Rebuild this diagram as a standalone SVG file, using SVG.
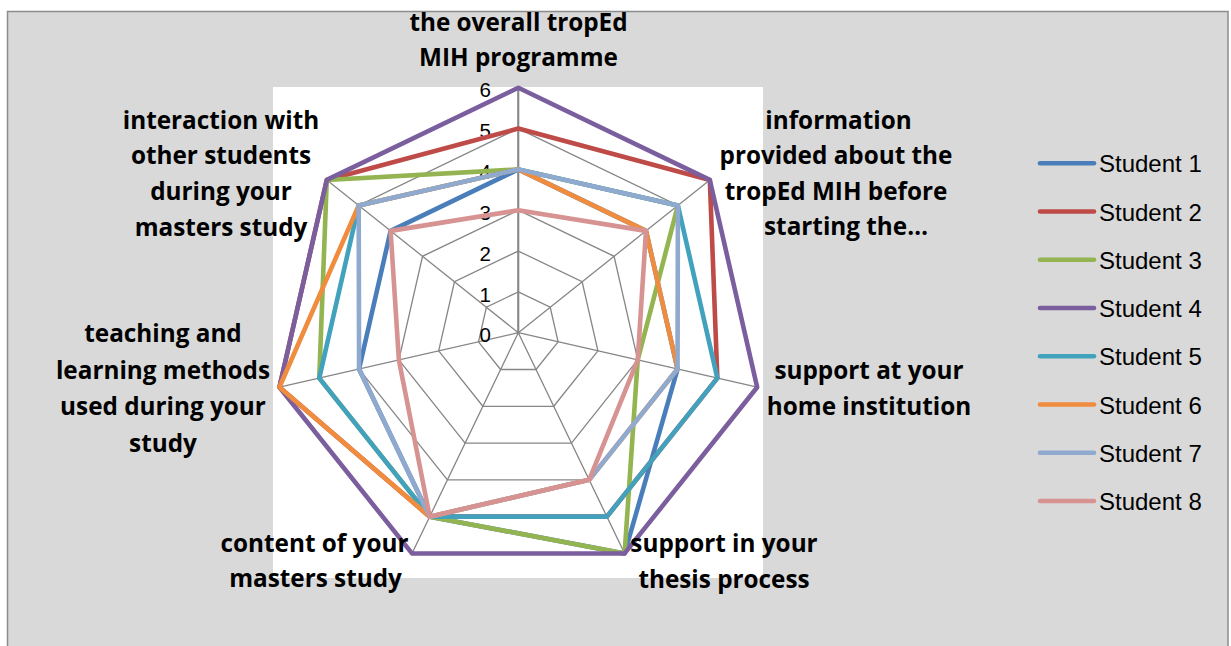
<svg xmlns="http://www.w3.org/2000/svg" width="1231" height="646" viewBox="0 0 1231 646">
<style>
.lbl{font-family:"Open Sans","Liberation Sans",sans-serif;font-weight:700;font-size:24.3px;fill:#000;text-anchor:middle}
.num{font-family:"Liberation Sans",Arial,sans-serif;font-size:20.5px;fill:#000;text-anchor:end}
.leg{font-family:"Liberation Sans",Arial,sans-serif;font-size:24px;fill:#000}
.grid{fill:none;stroke:#868686;stroke-width:1.3}
.ser{fill:none;stroke-width:4.6;stroke-linejoin:round}
.lg{stroke-width:4.6;stroke-linecap:round}
</style>
<rect x="0" y="0" width="1231" height="646" fill="#fff"/>
<rect id="chart-area" x="7.5" y="11.5" width="1220.5" height="700" fill="#D9D9D9" stroke="#8C8C8C" stroke-width="1.5"/>
<rect id="plot-area" x="273" y="87" width="490" height="491" fill="#fff"/>
<g id="grid">
<polygon class="grid" points="518.3,291.87 550.22,307.24 558.11,341.79 536.02,369.49 500.58,369.49 478.49,341.79 486.38,307.24"/>
<polygon class="grid" points="518.3,251.04 582.14,281.78 597.92,350.87 553.74,406.28 482.86,406.28 438.68,350.87 454.46,281.78"/>
<polygon class="grid" points="518.3,210.21 614.06,256.32 637.73,359.96 571.46,443.07 465.14,443.07 398.87,359.96 422.54,256.32"/>
<polygon class="grid" points="518.3,169.38 645.98,230.86 677.54,369.04 589.18,479.86 447.42,479.86 359.06,369.04 390.62,230.86"/>
<polygon class="grid" points="518.3,128.55 677.9,205.4 717.35,378.13 606.9,516.65 429.7,516.65 319.25,378.13 358.7,205.4"/>
<polygon class="grid" points="518.3,87.72 709.82,179.94 757.16,387.22 624.62,553.44 411.98,553.44 279.44,387.22 326.78,179.94"/>
<path class="grid" d="M518.3,332.7L518.3,87.72M518.3,332.7L709.82,179.94M518.3,332.7L757.16,387.22M518.3,332.7L624.62,553.44M518.3,332.7L411.98,553.44M518.3,332.7L279.44,387.22M518.3,332.7L326.78,179.94"/>
<path d="M518.3,332.7L518.3,87.72" stroke="#868686" stroke-width="2" fill="none"/>
</g>
<g id="axis-values">
<text class="num" x="491" y="342">0</text>
<text class="num" x="491" y="301.5">1</text>
<text class="num" x="491" y="260.5">2</text>
<text class="num" x="491" y="219.5">3</text>
<text class="num" x="491" y="179">4</text>
<text class="num" x="491" y="138">5</text>
<text class="num" x="491" y="97">6</text>
</g>
<g id="connectors">
<polygon id="student-1" class="ser" stroke="#4A7EBB" points="518.3,169.38 645.98,230.86 677.54,369.04 624.62,553.44 429.7,516.65 359.06,369.04 390.62,230.86"/>
<polygon id="student-2" class="ser" stroke="#BE4B48" points="518.3,128.55 709.82,179.94 717.35,378.13 606.9,516.65 429.7,516.65 279.44,387.22 326.78,179.94"/>
<polygon id="student-3" class="ser" stroke="#93B450" points="518.3,169.38 677.9,205.4 637.73,359.96 624.62,553.44 429.7,516.65 319.25,378.13 326.78,179.94"/>
<polygon id="student-4" class="ser" stroke="#7A5E9E" points="518.3,87.72 709.82,179.94 757.16,387.22 624.62,553.44 411.98,553.44 279.44,387.22 326.78,179.94"/>
<polygon id="student-5" class="ser" stroke="#42A2BD" points="518.3,169.38 677.9,205.4 717.35,378.13 606.9,516.65 429.7,516.65 319.25,378.13 358.7,205.4"/>
<polygon id="student-6" class="ser" stroke="#F08C3E" points="518.3,169.38 645.98,230.86 677.54,369.04 589.18,479.86 429.7,516.65 279.44,387.22 358.7,205.4"/>
<polygon id="student-7" class="ser" stroke="#90A9CF" points="518.3,169.38 677.9,205.4 677.54,369.04 589.18,479.86 429.7,516.65 359.06,369.04 358.7,205.4"/>
<polygon id="student-8" class="ser" stroke="#D69391" points="518.3,210.21 645.98,230.86 637.73,359.96 589.18,479.86 429.7,516.65 398.87,359.96 390.62,230.86"/>
</g>
<g id="label-overall">
<text class="lbl" x="518.5" y="31">the overall tropEd</text>
<text class="lbl" x="518.5" y="65.5">MIH programme</text>
</g>
<g id="label-information">
<text class="lbl" x="838.5" y="129">information</text>
<text class="lbl" x="836" y="164">provided about the</text>
<text class="lbl" x="836" y="200">tropEd MIH before</text>
<text class="lbl" x="846" y="235">starting the…</text>
</g>
<g id="label-home">
<text class="lbl" x="869" y="378.5">support at your</text>
<text class="lbl" x="869" y="415">home institution</text>
</g>
<g id="label-thesis">
<text class="lbl" x="724" y="551.5">support in your</text>
<text class="lbl" x="724" y="587.5">thesis process</text>
</g>
<g id="label-content">
<text class="lbl" x="314.5" y="551.5">content of your</text>
<text class="lbl" x="315.5" y="587">masters study</text>
</g>
<g id="label-teaching">
<text class="lbl" x="163" y="342">teaching and</text>
<text class="lbl" x="163" y="378.5">learning methods</text>
<text class="lbl" x="163" y="415">used during your</text>
<text class="lbl" x="163" y="451.5">study</text>
</g>
<g id="label-interaction">
<text class="lbl" x="221" y="128.5">interaction with</text>
<text class="lbl" x="221" y="164">other students</text>
<text class="lbl" x="221" y="200">during your</text>
<text class="lbl" x="221" y="235.5">masters study</text>
</g>
<g id="legend">
<line class="lg" x1="1040" y1="163.3" x2="1094" y2="163.3" stroke="#4A7EBB"/>
<text class="leg" x="1099" y="172.3">Student 1</text>
<line class="lg" x1="1040" y1="211.5" x2="1094" y2="211.5" stroke="#BE4B48"/>
<text class="leg" x="1099" y="220.5">Student 2</text>
<line class="lg" x1="1040" y1="259.8" x2="1094" y2="259.8" stroke="#93B450"/>
<text class="leg" x="1099" y="268.8">Student 3</text>
<line class="lg" x1="1040" y1="308" x2="1094" y2="308" stroke="#7A5E9E"/>
<text class="leg" x="1099" y="317">Student 4</text>
<line class="lg" x1="1040" y1="356.3" x2="1094" y2="356.3" stroke="#42A2BD"/>
<text class="leg" x="1099" y="365.3">Student 5</text>
<line class="lg" x1="1040" y1="404.5" x2="1094" y2="404.5" stroke="#F08C3E"/>
<text class="leg" x="1099" y="413.5">Student 6</text>
<line class="lg" x1="1040" y1="452.8" x2="1094" y2="452.8" stroke="#90A9CF"/>
<text class="leg" x="1099" y="461.8">Student 7</text>
<line class="lg" x1="1040" y1="501" x2="1094" y2="501" stroke="#D69391"/>
<text class="leg" x="1099" y="510">Student 8</text>
</g>
</svg>
